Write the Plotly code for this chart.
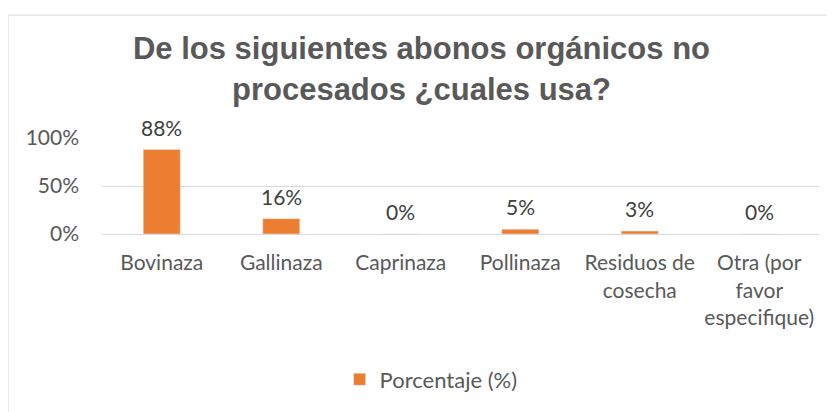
import plotly.graph_objects as go

categorias = ["Bovinaza", "Gallinaza", "Caprinaza", "Pollinaza",
              "Residuos de<br>cosecha", "Otra (por<br>favor<br>especifique)"]
porcentaje = [0.88, 0.16, 0.0, 0.05, 0.03, 0.0]
etiquetas = ["88%", "16%", "0%", "5%", "3%", "0%"]

font_txt = "Lato, 'Open Sans', sans-serif"
gris = "#595959"

fig = go.Figure()
fig.add_trace(go.Bar(
    x=categorias,
    y=porcentaje,
    name="Porcentaje (%)",
    marker=dict(color="#ED7D31"),
    width=0.31,
    cliponaxis=False,
))

# data labels a bit higher above the bars than plotly's "outside" text
for cat, val, lab in zip(categorias, porcentaje, etiquetas):
    fig.add_annotation(x=cat, y=val, text=lab, showarrow=False,
                       yanchor="bottom", yshift=8,
                       font=dict(family=font_txt, size=21, color="#404040"))

# page is offset by the 8px body margin, so the figure is 8px smaller
fig.update_layout(
    width=827, height=404,
    margin=dict(l=94, r=16, t=130, b=175),
    paper_bgcolor="white", plot_bgcolor="white",
    title=dict(text="<b>De los siguientes abonos orgánicos no<br>procesados ¿cuales usa?</b>",
               x=0.5, xref="container", xanchor="center", y=0.873, yanchor="middle",
               font=dict(family="Liberation Sans, Arial, sans-serif", size=31, color=gris)),
    showlegend=True,
    legend=dict(orientation="h", x=0.459, xanchor="center",
                y=-1.515, yanchor="middle",
                font=dict(family=font_txt, size=22, color=gris)),
    shapes=[dict(type="rect", xref="paper", yref="paper", x0=-0.131, x1=1.03, y0=-1.9, y1=2.28,
                 line=dict(color="#d9d9d9", width=1))],
)
fig.update_yaxes(range=[0, 1], tickvals=[0, 0.5, 1], tickformat=".0%",
                 showgrid=True, gridcolor="#d9d9d9", zeroline=False,
                 tickfont=dict(family=font_txt, size=21, color=gris),
                 ticklabelstandoff=22, showline=False)
fig.update_xaxes(tickfont=dict(family=font_txt, size=21, color=gris),
                 showline=True, linecolor="#d9d9d9", ticks="", ticklabelstandoff=10)

fig.write_html("out.html")
